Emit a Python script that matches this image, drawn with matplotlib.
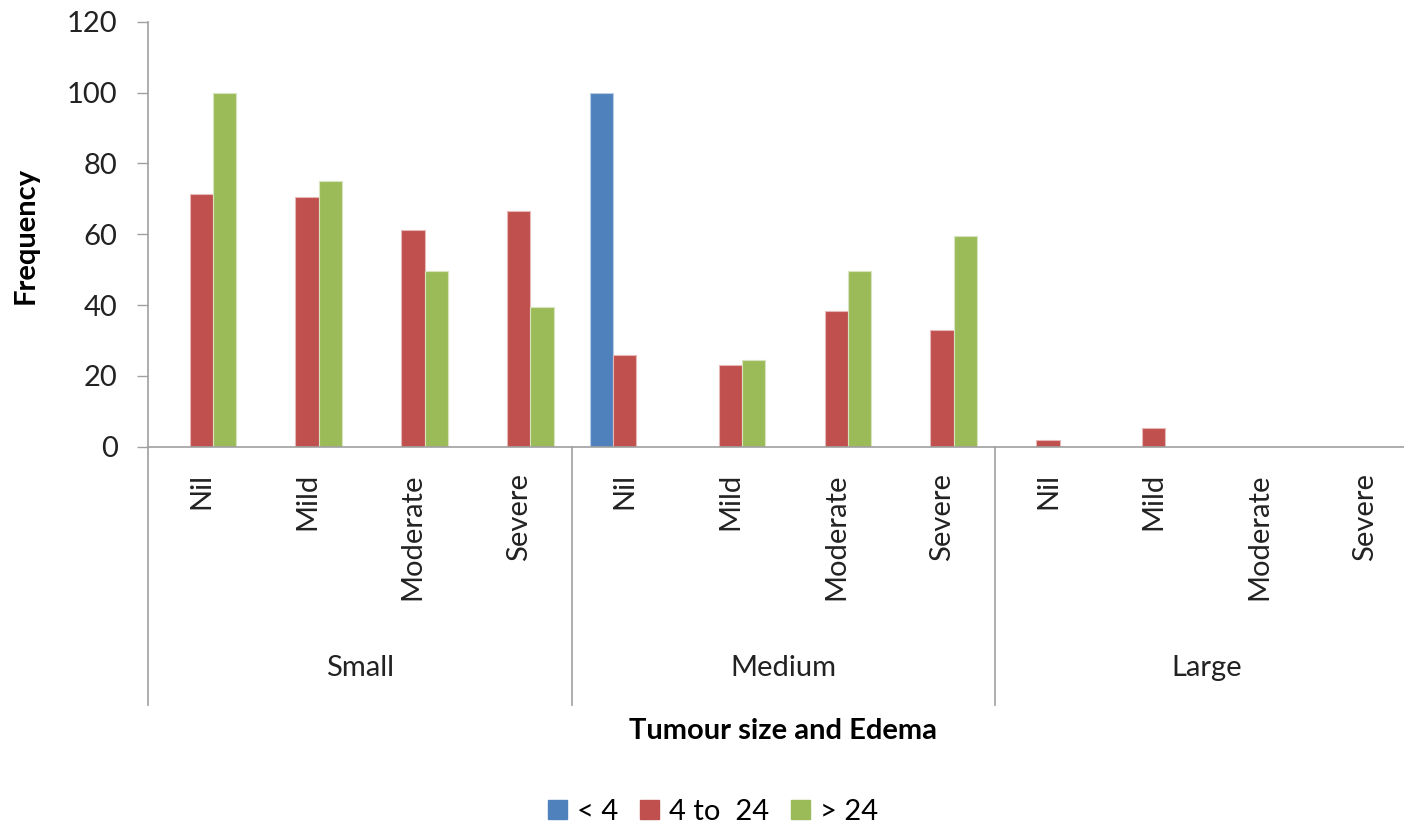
import numpy as np
import matplotlib.pyplot as plt
from matplotlib.patches import Patch

plt.rcParams['font.family'] = ['Lato', 'DejaVu Sans']

sizes = ['Small', 'Medium', 'Large']
edema = ['Nil', 'Mild', 'Moderate', 'Severe']
series = ['< 4', '4 to  24', '> 24']

# frequency per (size, edema) category, 12 categories in order
lt4 = [0, 0, 0, 0, 100, 0, 0, 0, 0, 0, 0, 0]
mid = [71.4, 70.6, 61.2, 66.5, 26.0, 23.2, 38.3, 33.0, 1.8, 5.4, 0, 0]
gt24 = [100, 75, 49.7, 39.5, 0, 24.5, 49.7, 59.6, 0, 0, 0, 0]

colors = ['#4F81BD', '#C0504D', '#9BBB59']
edges = ['#B9CDE5', '#E6B9B8', '#D7E4BD']
grey = '#A0A0A0'
txt = '#222222'
fs = 21

fig = plt.figure(figsize=(14.04, 8.27), dpi=100)
ax = fig.add_axes([0.1056, 0.4597, 0.9046, 0.5141])

x = np.arange(len(lt4))
w = 0.22
for k, vals in enumerate([lt4, mid, gt24]):
    ax.bar(x + (k - 1) * w, vals, w, color=colors[k], edgecolor=edges[k],
           linewidth=0.8, zorder=2)

ax.set_xlim(-0.5, 11.5)
ax.set_ylim(0, 120)
ax.set_yticks(np.arange(0, 121, 20))
ax.tick_params(axis='y', length=8, width=1, color=grey, pad=14,
               labelsize=fs, labelcolor=txt)

ax.set_xticks(x)
ax.set_xticklabels(edema * 3, rotation=90, fontsize=fs, color=txt)
ax.tick_params(axis='x', length=0, pad=19)

for s in ['top', 'right']:
    ax.spines[s].set_visible(False)
ax.spines['bottom'].set_color(grey)
ax.spines['bottom'].set_linewidth(1.2)
ax.spines['left'].set_color(grey)
ax.spines['left'].set_linewidth(1.2)

# group divider lines running down through the category labels
trans = ax.get_xaxis_transform()
for b in [-0.5, 3.5, 7.5]:
    ax.plot([b, b], [0, -0.607], transform=trans, color=grey, lw=1.2,
            clip_on=False)

for g, name in enumerate(sizes):
    ax.text(g * 4 + 1.5, -0.521, name, transform=trans, ha='center',
            va='center', fontsize=fs, color=txt)

ax.text(0.5, -0.669, 'Tumour size and Edema', transform=ax.transAxes,
        ha='center', va='center', fontsize=fs, fontweight='bold')
fig.text(26 / 1404, 1 - 235 / 827, 'Frequency', rotation=90, ha='center',
         va='center', fontsize=fs, fontweight='bold')

handles = [Patch(color=c) for c in colors]
fig.legend(handles, series, loc='center', bbox_to_anchor=(713 / 1404, 1 - 812 / 827),
           ncol=3, frameon=False, fontsize=fs, handlelength=0.65,
           handleheight=0.65, handletextpad=0.35, columnspacing=0.75)

fig.savefig('out.png', dpi=100)
